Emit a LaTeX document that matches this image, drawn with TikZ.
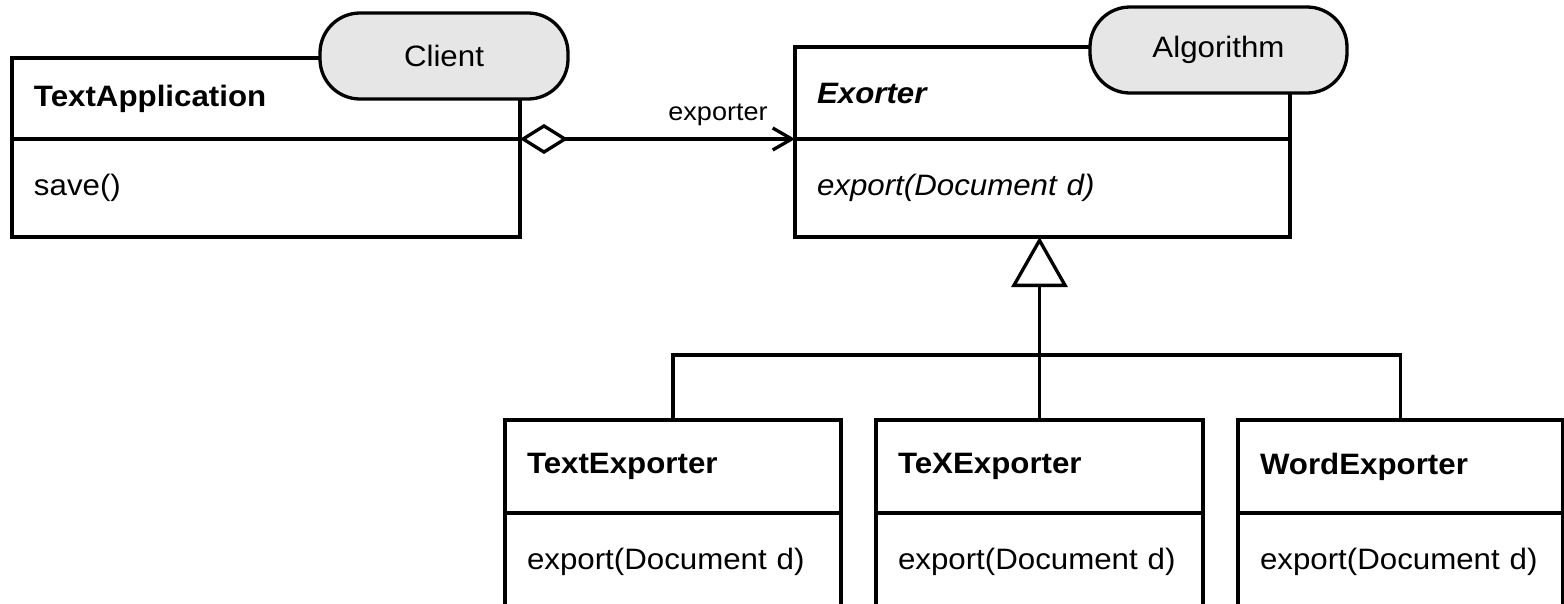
\documentclass[tikz,border=0pt]{standalone}
\usepackage{fontspec}
\setmainfont{Liberation Sans}[FakeStretch=1.06]
\usetikzlibrary{arrows.meta}
\definecolor{tagfill}{HTML}{E6E6E6}
\tikzset{
  umlfont/.style={font=\fontsize{29.5}{34}\selectfont},
  stroke/.style={line width=3.3pt},
  % class compartment: width, height, text width
  compartment/.style n args={3}{draw, stroke, rectangle, outer sep=0pt,
    inner xsep=22pt, inner ysep=0pt, align=left, anchor=north west, umlfont,
    minimum width=#1pt, minimum height=#2pt, text width=#3pt},
  roletag/.style={draw, stroke, fill=tagfill, rectangle, rounded corners=40pt,
    outer sep=0pt, minimum height=86pt, umlfont},
  assoc/.style={stroke,
    {Diamond[open,length=48pt,width=30pt]}-{Straight Barb[length=19pt,width=22pt]}},
  generalize/.style={stroke, -{Triangle[open,length=50pt,width=56pt]}},
  branch/.style={stroke},
  rolelabel/.style={font=\fontsize{25.5}{30}\selectfont, anchor=base, inner sep=0pt}
}
\begin{document}
\begin{tikzpicture}[x=1pt,y=-1pt]
  \useasboundingbox (0,0) rectangle (1564,603);
  \clip (0,0) rectangle (1564,603);

  % client class
  \node[compartment={508}{81}{464}] (taH) at (12,58) {\textbf{TextApplication}};
  \node[compartment={508}{98}{464}] (taB) at (taH.south west) {save()};

  % abstract strategy
  \node[compartment={495}{92}{451}] (exH) at (795,47) {\textbf{\textit{Exorter}}};
  \node[compartment={495}{98}{451}] (exB) at (exH.south west) {\textit{export(Document d)}};

  % concrete strategies
  \node[compartment={336}{93}{292}] (txH) at (505,420) {\textbf{TextExporter}};
  \node[compartment={336}{98}{292}] (txB) at (txH.south west) {export(Document d)};

  \node[compartment={327}{93}{283}] (tkH) at (876,420) {\textbf{TeXExporter}};
  \node[compartment={327}{98}{283}] (tkB) at (tkH.south west) {export(Document d)};

  \node[compartment={325}{93}{281}] (wdH) at (1238,420) {\textbf{WordExporter}};
  \node[compartment={325}{98}{281}] (wdB) at (wdH.south west) {export(Document d)};

  % role tags
  \node[roletag, minimum width=248pt] (client) at (444,56) {Client};
  \node[roletag, minimum width=257pt] (algo) at (1218.5,50) {Algorithm};

  % aggregation
  \draw[assoc] (taB.north east) -- (exB.north west);
  \node[rolelabel] (explbl) at (718,120) {exporter};

  % generalization
  \draw[generalize] (tkH.north) -- (exB.south -| tkH.north);
  \draw[branch] (txH.north) -- ++(0,-65) -| (wdH.north);
\end{tikzpicture}
\end{document}
